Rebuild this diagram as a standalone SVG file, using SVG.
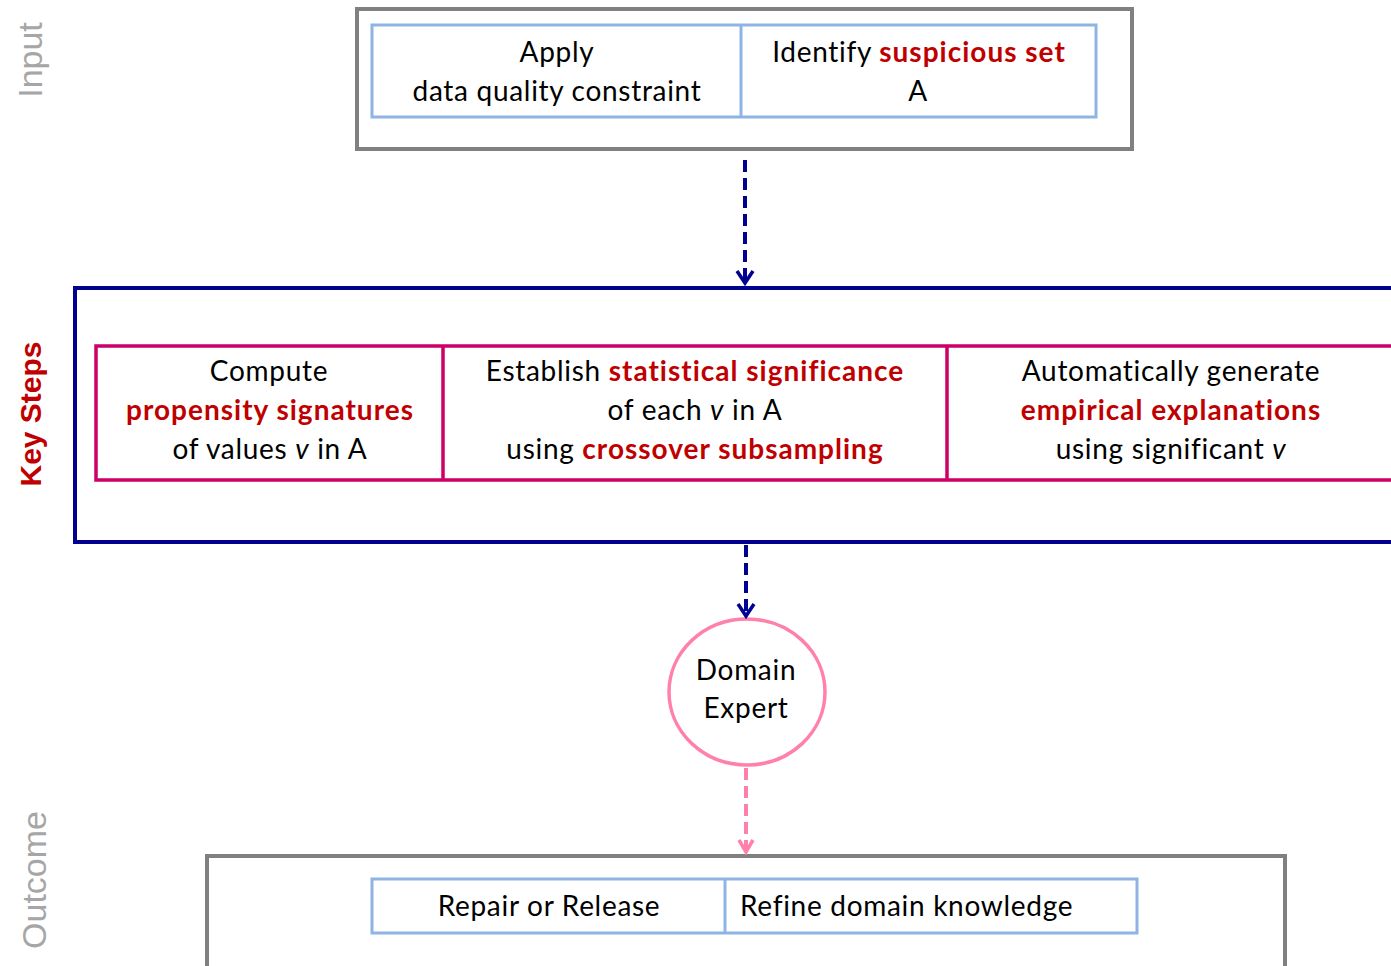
<svg xmlns="http://www.w3.org/2000/svg" width="1391" height="966" viewBox="0 0 1391 966">
<style>
.t{font-family:Lato,"Liberation Sans",sans-serif;font-size:28px;fill:#000;text-anchor:middle;letter-spacing:0.7px}
.s{text-anchor:start}
.r{fill:#C00000;font-weight:bold;letter-spacing:1px}
.i{font-style:italic}
.side{font-family:"Liberation Sans",sans-serif;text-anchor:middle}
.gray{fill:none;stroke:#808080;stroke-width:4}
.blue{fill:#fff;stroke:#8EB4E3;stroke-width:3}
.navy{fill:none;stroke:#000091;stroke-width:4}
.pink{fill:#fff;stroke:#CC0066;stroke-width:3.5}
.dn{stroke:#000091;stroke-width:4;stroke-dasharray:12,6;fill:none}
.dp{stroke:#FF80AA;stroke-width:4;stroke-dasharray:12,6;fill:none}
.hn{fill:none;stroke:#000091;stroke-width:3.5}
.hp{fill:none;stroke:#FF80AA;stroke-width:3.5}
</style>
<rect width="1391" height="966" fill="#fff"/>
<g id="labels">
<text class="side" fill="#A6A6A6" font-size="34" transform="translate(42,60) rotate(-90)">Input</text>
<text class="side" fill="#C00000" font-size="30" font-weight="bold" transform="translate(41,414) rotate(-90)">Key Steps</text>
<text class="side" fill="#A6A6A6" font-size="34" transform="translate(46,880) rotate(-90)">Outcome</text>
</g>
<g id="input">
<rect class="gray" x="357" y="9" width="775" height="140"/>
<rect class="blue" x="372" y="25" width="724" height="92"/>
<line x1="741" y1="25" x2="741" y2="117" stroke="#8EB4E3" stroke-width="3"/>
<text class="t" x="557" y="62">Apply</text>
<text class="t" x="557" y="101">data quality constraint</text>
<text class="t" x="919" y="62">Identify <tspan class="r">suspicious set</tspan></text>
<text class="t" x="918" y="101">A</text>
</g>
<g id="keysteps">
<rect class="navy" x="75" y="288" width="1330" height="254"/>
<rect class="pink" x="96" y="346" width="1310" height="134"/>
<line x1="443" y1="346" x2="443" y2="480" stroke="#CC0066" stroke-width="3.5"/>
<line x1="947" y1="346" x2="947" y2="480" stroke="#CC0066" stroke-width="3.5"/>
<text class="t" x="269" y="381">Compute</text>
<text class="t r" x="270" y="420">propensity signatures</text>
<text class="t" x="270" y="459">of values <tspan class="i">v</tspan> in A</text>
<text class="t" x="695" y="381">Establish <tspan class="r">statistical significance</tspan></text>
<text class="t" x="695" y="420">of each <tspan class="i">v</tspan> in A</text>
<text class="t" x="695" y="459">using <tspan class="r">crossover subsampling</tspan></text>
<text class="t" x="1171" y="381">Automatically generate</text>
<text class="t r" x="1171" y="420">empirical explanations</text>
<text class="t" x="1171" y="459">using significant <tspan class="i">v</tspan></text>
</g>
<g id="expert">
<ellipse cx="747" cy="692" rx="78" ry="73" fill="#fff" stroke="#FF80AA" stroke-width="3.5"/>
<text class="t" x="746" y="680">Domain</text>
<text class="t" x="746" y="718">Expert</text>
</g>
<g id="outcome">
<rect class="gray" x="207" y="856" width="1078" height="130"/>
<rect class="blue" x="372" y="879" width="765" height="54"/>
<line x1="725" y1="879" x2="725" y2="933" stroke="#8EB4E3" stroke-width="3"/>
<text class="t" x="549" y="916">Repair or Release</text>
<text class="t s" x="740" y="916">Refine domain knowledge</text>
</g>
<g id="connectors">
<line class="dn" x1="745" y1="160" x2="745" y2="283"/>
<polyline class="hn" points="737,271 745,283 753,271"/>
<line class="dn" x1="746" y1="545" x2="746" y2="616"/>
<polyline class="hn" points="738,604 746,616 754,604"/>
<line class="dp" x1="746" y1="768" x2="746" y2="851"/>
<polyline class="hp" points="739,840 746,852 753,840"/>
</g>
</svg>
